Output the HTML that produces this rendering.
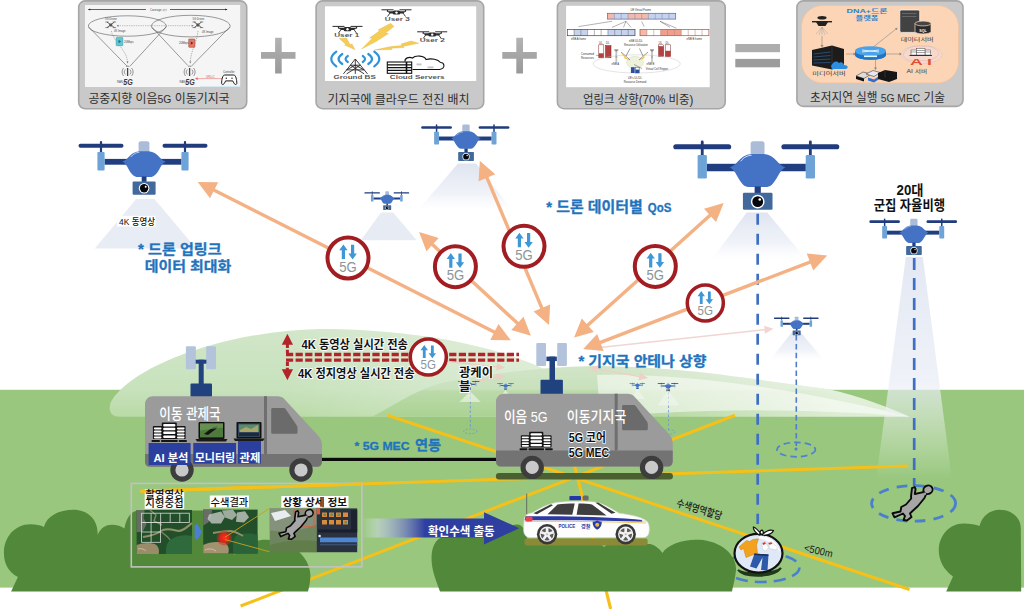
<!DOCTYPE html>
<html lang="ko">
<head>
<meta charset="utf-8">
<title>5G MEC 드론 수색 개념도</title>
<style>
html,body{margin:0;padding:0;background:#fff;}
body{width:1024px;height:609px;overflow:hidden;position:relative;font-family:"Liberation Sans","Noto Sans CJK KR",sans-serif;}
svg{position:absolute;left:0;top:0;display:block;}
svg text{font-family:"Liberation Sans","Noto Sans CJK KR",sans-serif;}
.b{font-weight:700;}
.blue{fill:#1f74bd;font-weight:700;stroke:#1f74bd;stroke-width:0.3px;}
.ol{paint-order:stroke;stroke:#fff;stroke-width:1.8px;stroke-linejoin:round;}
</style>
</head>
<body>
<svg width="1024" height="609" viewBox="0 0 1024 609">
<defs>
  <!-- drone: origin = body centre x, rotor line y -->
  <g id="drone">
    <rect x="-64.5" y="-2" width="45" height="4" rx="2" fill="#213c7c"/>
    <rect x="19.5" y="-2" width="45" height="4" rx="2" fill="#213c7c"/>
    <rect x="-43.1" y="-4.8" width="2.2" height="12" rx="1" fill="#213c7c"/>
    <rect x="40.9" y="-4.8" width="2.2" height="12" rx="1" fill="#213c7c"/>
    <rect x="-38.5" y="13.2" width="77" height="5.8" fill="#213f80"/>
    <rect x="-45.6" y="6.3" width="7.2" height="18.4" rx="1" fill="#6ea3d7"/>
    <rect x="38.4" y="6.3" width="7.2" height="18.4" rx="1" fill="#6ea3d7"/>
    <g transform="translate(1 0)"><rect x="-5.4" y="-4.4" width="10.8" height="11" rx="2" fill="#aabcd8"/>
    <path d="M-21.6 16 C-16 14.5 -14 6.6 -5 5.6 L5 5.6 C14 6.6 16 14.5 21.6 16 C16 18 14.5 30 7.5 31.2 L-7.5 31.2 C-14.5 30 -16 18 -21.6 16Z" fill="#4472c4"/>
    <path d="M-13 11 C-10.5 8 -8 6.8 -5 6.6" fill="none" stroke="#e8eefb" stroke-width="0.7" stroke-linecap="round"/></g>
    <g transform="translate(1.1 0.4)"><rect x="-2.4" y="30.4" width="4.8" height="5.4" fill="#213f80"/>
    <rect x="-11.5" y="35.4" width="23" height="13.2" rx="1" fill="#41699b"/>
    <circle cx="0" cy="42.2" r="5.3" fill="#fff"/>
    <circle cx="0" cy="42.2" r="4.2" fill="#05070c"/>
    <circle cx="1.6" cy="40.6" r="1" fill="#fff"/></g>
  </g>
  <!-- 5G badge, r=22.5 -->
  <g id="g5">
    <circle r="20.5" fill="#fff" stroke="#a21d22" stroke-width="4"/>
    <path d="M-4.6 -13.6 L-0.4 -7.8 L-3 -7.8 L-3 1 L-6.2 1 L-6.2 -7.8 L-8.8 -7.8Z" fill="#3f97d6"/>
    <path d="M4.6 1.4 L0.4 -4.4 L3 -4.4 L3 -13.2 L6.2 -13.2 L6.2 -4.4 L8.8 -4.4Z" fill="#3f97d6"/>
    <text x="0" y="13.6" font-size="14.4" text-anchor="middle" fill="#8b959a" textLength="17.5" lengthAdjust="spacingAndGlyphs">5G</text>
  </g>
  <!-- server rack icon 34x20 -->
  <g id="srv">
    <g fill="#141414">
      <rect x="0" y="17.400" width="8.200" height="2.100" rx="0.500"/><rect x="9.500" y="17.400" width="16.500" height="2.100" rx="0.500"/><rect x="27.200" y="17.400" width="8" height="2.100" rx="0.500"/>
      <rect x="1.300" y="3.600" width="9.600" height="13" rx="0.900"/><rect x="24.400" y="3.600" width="9.600" height="13" rx="0.900"/>
      <rect x="10.200" y="0" width="15" height="16.600" rx="0.900"/>
    </g>
    <g fill="#fff">
      <rect x="11.600" y="1.500" width="12.200" height="2.500" rx="1"/><rect x="11.600" y="5.300" width="12.200" height="2.500" rx="1"/><rect x="11.600" y="9.100" width="12.200" height="2.500" rx="1"/><rect x="11.600" y="12.900" width="12.200" height="2.500" rx="1"/>
      <rect x="2.300" y="4.900" width="7.600" height="2" rx="0.800"/><rect x="2.300" y="8" width="7.600" height="2" rx="0.800"/><rect x="2.300" y="11.100" width="7.600" height="2" rx="0.800"/><rect x="2.300" y="14.100" width="7.600" height="1.800" rx="0.800"/>
      <rect x="25.400" y="4.900" width="7.600" height="2" rx="0.800"/><rect x="25.400" y="8" width="7.600" height="2" rx="0.800"/><rect x="25.400" y="11.100" width="7.600" height="2" rx="0.800"/><rect x="25.400" y="14.100" width="7.600" height="1.800" rx="0.800"/>
    </g>
  </g>
  <g id="pers">
  <path d="M926 494.500 L924.500 498 L918 506 L912 511.500 L910 513.500 L911.500 517 L907 520.500 L903.500 520 L905 516 L903 513.500 L894.500 517.300 L892.500 513.300 L900.500 511.500 L901.300 507 L906 504.500 L911.200 498.500 L911 496.500 L912 488.200 L914.600 487 L915.600 489 L914.800 494 L921 492.600 L924 492 Z" fill="#a6a6a6" stroke="#0a0a0a" stroke-width="1.900" stroke-linejoin="round"/>
  <ellipse cx="928" cy="489.800" rx="4.700" ry="4.200" fill="#a6a6a6" stroke="#0a0a0a" stroke-width="1.900" transform="rotate(-30 928 489.800)"/>
  <path d="M923.500 493.500 L926 494" stroke="#a6a6a6" stroke-width="2"/>
</g>
  <filter id="soft" x="-2%" y="-2%" width="104%" height="104%"><feGaussianBlur stdDeviation="0.5"/></filter>
  <linearGradient id="coneFade" x1="0" y1="0" x2="0" y2="1">
    <stop offset="0" stop-color="#dfe4f0" stop-opacity="1"/>
    <stop offset="0.65" stop-color="#e9edf5" stop-opacity="0.7"/>
    <stop offset="1" stop-color="#f2f4f9" stop-opacity="0"/>
  </linearGradient>
  <linearGradient id="beamG" x1="0" y1="0" x2="0" y2="1">
    <stop offset="0" stop-color="#e3e8f3" stop-opacity="1"/>
    <stop offset="0.55" stop-color="#e9edf5" stop-opacity="0.75"/>
    <stop offset="1" stop-color="#ffffff" stop-opacity="0"/>
  </linearGradient>
  <linearGradient id="hillA" x1="0" y1="0" x2="0" y2="1">
    <stop offset="0" stop-color="#d1e6c8"/>
    <stop offset="0.68" stop-color="#c8e2bd"/>
    <stop offset="0.72" stop-color="#c6e1ba"/>
    <stop offset="1" stop-color="#b9daa6"/>
  </linearGradient>
  <linearGradient id="hillAw" x1="0" y1="0" x2="1" y2="0">
    <stop offset="0.35" stop-color="#ffffff" stop-opacity="0"/>
    <stop offset="1" stop-color="#ffffff" stop-opacity="0.42"/>
  </linearGradient>
  <linearGradient id="hillBw" gradientUnits="userSpaceOnUse" x1="600" y1="0" x2="840" y2="0">
    <stop offset="0" stop-color="#ffffff" stop-opacity="0"/>
    <stop offset="1" stop-color="#ffffff" stop-opacity="0.6"/>
  </linearGradient>
  <linearGradient id="hillB" x1="0" y1="0" x2="0" y2="1">
    <stop offset="0" stop-color="#d2e5c8"/>
    <stop offset="0.45" stop-color="#c8e1bc"/>
    <stop offset="0.5" stop-color="#bbdaa9"/>
    <stop offset="1" stop-color="#abd293"/>
  </linearGradient>
  <linearGradient id="barrow" x1="0" y1="0" x2="1" y2="0">
    <stop offset="0" stop-color="#e8ecf6" stop-opacity="0"/>
    <stop offset="0.1" stop-color="#cfd6ea" stop-opacity="0.55"/>
    <stop offset="0.4" stop-color="#2f3f9f" stop-opacity="1"/>
    <stop offset="1" stop-color="#2f3f9f" stop-opacity="1"/>
  </linearGradient>
  <linearGradient id="plusG" x1="0" y1="0" x2="0" y2="1">
    <stop offset="0" stop-color="#b3b3b3"/>
    <stop offset="1" stop-color="#999999"/>
  </linearGradient>
</defs>

<!-- ============ SKY / GROUND ============ -->
<g id="bg">
  <rect x="0" y="389.8" width="1024" height="197.8" fill="#98c77d"/>
</g>
<!-- ============ HILLS ============ -->
<g id="hills">
  <path d="M119 416.800 C111 416.800 108 411 110.500 403 C126 370 218 331 320 329 C470 329 590 372 592 416.800Z" fill="url(#hillA)"/>
  <path d="M119 416.800 C111 416.800 108 411 110.500 403 C126 370 218 331 320 329 C470 329 590 372 592 416.800Z" fill="url(#hillAw)"/>
  <path d="M372 416.800 C400 402 422 386 449 381.500 C490 374 540 367 593 366 C640 366 680 370 708 373 C740 377 790 384 827 389 C860 396 890 408 909.700 416.800Z" fill="url(#hillB)"/>
  <path d="M372 416.800 C400 402 422 386 449 381.500 C490 374 540 367 593 366 C640 366 680 370 708 373 C740 377 790 384 827 389 C860 396 890 408 909.700 416.800Z" fill="url(#hillBw)"/>
  <path d="M597 375 C650 373 720 380 782 390 C830 398 870 407 909.700 416.800 C860 412 780 409 708 411 C670 412 630 415 600 416.800 Z" fill="#ffffff" opacity="0.520"/>
</g>

<!-- ============ TOP BOXES ============ -->
<g id="topboxes">
  <!-- box 1 -->
  <rect x="78.700" y="0.900" width="168" height="107.900" rx="6.500" fill="#c9c9c9" stroke="#a6a6a6" stroke-width="1.600"/>
  <rect x="85" y="5" width="155.200" height="82" fill="#f5f5f5"/>
  <g fill="none" stroke="#4a4a4a" stroke-width="0.550">
    <path d="M88.500 9.500H146M170 9.500H227" stroke="#222" stroke-width="0.700"/>
    <path d="M88 9.500l2.200 -1.100v2.200zM227.500 9.500l-2.200 -1.100v2.200z" fill="#222" stroke="none"/>
    <ellipse cx="127.300" cy="26" rx="39" ry="10.200"/>
    <ellipse cx="190.800" cy="26.100" rx="39.400" ry="10.800"/>
    <path d="M89.100 27.400L127.300 66.400M166.300 26.600L129.800 66.400M152.200 27.400L187.900 65.600M229.400 27.400L191.200 66.400"/>
    <path d="M117.400 25.700H192.900" stroke-dasharray="1.300 1" stroke="#888"/>
    <path d="M111.500 31C112 40 127 50 127.500 62M198 31C197 42 191 50 190.300 62" stroke-dasharray="1.300 1" stroke="#777"/>
  </g>
  <path d="M116.500 25.700l2 -1v2zM193.800 25.700l-2 -1v2zM127.500 63.500l-1 -2h2zM190.300 63.500l-1 -2h2z" fill="#777"/>
  <!-- quadcopters -->
  <g stroke="#444" stroke-width="0.800" fill="none">
    <path d="M107 22l7.400 5.600M114.400 22l-7.400 5.600M194.200 22l7.400 5.600M201.600 22l-7.400 5.600"/>
    <path d="M105.300 22h3.400M112.700 22h3.400M105.300 27.600h3.400M112.700 27.600h3.400M192.500 22h3.400M199.900 22h3.400M192.500 27.600h3.400M199.900 27.600h3.400" stroke-width="0.600"/>
  </g>
  <rect x="109.200" y="23.400" width="3" height="3" rx="0.600" fill="#555"/><rect x="196.400" y="23.400" width="3" height="3" rx="0.600" fill="#555"/>
  <!-- base stations -->
  <g stroke="#555" fill="none" stroke-width="0.600">
    <path d="M127.600 68v8M189.600 68v8" stroke-width="1.300" stroke="#444"/>
    <path d="M125.300 69.500a3.500 3.500 0 0 0 0 5M123.600 68a6 6 0 0 0 0 8M129.900 69.500a3.500 3.500 0 0 1 0 5M131.600 68a6 6 0 0 1 0 8M126 66.400a2.500 1.200 0 0 1 3.200 0"/>
    <path d="M187.300 69.500a3.500 3.500 0 0 0 0 5M185.600 68a6 6 0 0 0 0 8M191.900 69.500a3.500 3.500 0 0 1 0 5M193.600 68a6 6 0 0 1 0 8M188 66.400a2.500 1.200 0 0 1 3.200 0"/>
  </g>
  <rect x="116.200" y="37.400" width="6.600" height="8.300" rx="0.600" fill="#5ccad3" stroke="#2a8f99" stroke-width="0.500"/>
  <path d="M118.500 39.800l2.600 1.700 -2.600 1.700z" fill="#1d6f78"/>
  <rect x="188.700" y="39" width="6.200" height="8.300" rx="0.600" fill="#e37a68" stroke="#9a3424" stroke-width="0.500"/>
  <path d="M190.800 41.400l2.600 1.700 -2.600 1.700z" fill="#7e2418"/>
  <g font-size="2.700" fill="#444">
    <text x="150" y="10.500" textLength="17" lengthAdjust="spacingAndGlyphs">Coverage 확장</text>
    <text x="105" y="20.300">5G Drone</text><text x="192.500" y="20.300">5G Drone</text>
    <text x="114" y="31.800">4K Image</text><text x="202" y="32.800">4K Image</text>
    <text x="124" y="42.500">20Mbps</text><text x="179" y="44">20Mbps</text>
    <text x="117" y="82.500">RAN</text><text x="179.500" y="82.500">RAN</text>
    <text x="223" y="72.800">Controller</text>
    <text x="206" y="78" fill="#e05050">URLLC</text>
  </g>
  <text x="123.300" y="84.800" font-size="8.200" class="b" fill="#3a3a3a" font-style="italic" textLength="9.500" lengthAdjust="spacingAndGlyphs">5G</text>
  <text x="185.300" y="84.800" font-size="8.200" class="b" fill="#3a3a3a" font-style="italic" textLength="9.500" lengthAdjust="spacingAndGlyphs">5G</text>
  <path d="M196 78.600H222" stroke="#e86060" stroke-width="0.500"/><path d="M195 78.600l2.600 -1.300v2.600z" fill="#e86060"/>
  <path d="M224.600 75h9.200c2.100 0 3 5.200 3 8.300c0 1.600 -2.100 1.600 -3 -0.400l-1 -2h-7.200l-1 2c-0.900 2 -3 2 -3 0.400c0 -3.100 0.900 -8.300 3 -8.300z" fill="#fff" stroke="#1c1c1c" stroke-width="1"/>
  <circle cx="226.300" cy="78.200" r="0.700" fill="#1c1c1c"/><circle cx="232" cy="78.200" r="0.700" fill="#1c1c1c"/>
  <rect x="200" y="86" width="40" height="0.800" fill="#cfe6f3"/>
  <text x="88.400" y="103.400" font-size="12.400" fill="#2e2e2e" textLength="141.200" lengthAdjust="spacingAndGlyphs">공중지향 이음<tspan font-size="10.800">5G</tspan> 이동기지국</text>

  <!-- plus 1 -->
  <path d="M275.100 37.800h6.600v14.300h13.800v6.700h-13.800v14.700h-6.600v-14.700h-14.100v-6.700h14.100z" fill="url(#plusG)"/>

  <!-- box 2 -->
  <rect x="316.100" y="0.900" width="167.600" height="107.800" rx="6.500" fill="#c9c9c9" stroke="#a6a6a6" stroke-width="1.600"/>
  <rect x="325" y="6.300" width="151.200" height="74.700" fill="#fff"/>
  <g transform="translate(396.5 12)"><path d="M-15 -2.200h12M3 -2.200h12" stroke="#2b2b2b" stroke-width="1" fill="none"/><path d="M-9 -2v1.800M9 -2v1.800" stroke="#2b2b2b" stroke-width="1.200"/><path d="M-9.500 -0.800h19l-3 2.200h-13z" fill="#2b2b2b"/><rect x="-3.800" y="-1.600" width="7.600" height="4.200" rx="1.500" fill="#2b2b2b"/><circle cx="0" cy="0.600" r="1.200" fill="#fff"/><path d="M-6.500 1l-2.500 3.500M6.500 1l2.500 3.500" stroke="#2b2b2b" stroke-width="0.900"/></g><g transform="translate(347.5 28.6)"><path d="M-15 -2.200h12M3 -2.200h12" stroke="#2b2b2b" stroke-width="1" fill="none"/><path d="M-9 -2v1.800M9 -2v1.800" stroke="#2b2b2b" stroke-width="1.200"/><path d="M-9.500 -0.800h19l-3 2.200h-13z" fill="#2b2b2b"/><rect x="-3.800" y="-1.600" width="7.600" height="4.200" rx="1.500" fill="#2b2b2b"/><circle cx="0" cy="0.600" r="1.200" fill="#fff"/><path d="M-6.500 1l-2.500 3.500M6.500 1l2.500 3.500" stroke="#2b2b2b" stroke-width="0.900"/></g><g transform="translate(432.2 34)"><path d="M-15 -2.200h12M3 -2.200h12" stroke="#2b2b2b" stroke-width="1" fill="none"/><path d="M-9 -2v1.800M9 -2v1.800" stroke="#2b2b2b" stroke-width="1.200"/><path d="M-9.500 -0.800h19l-3 2.200h-13z" fill="#2b2b2b"/><rect x="-3.800" y="-1.600" width="7.600" height="4.200" rx="1.500" fill="#2b2b2b"/><circle cx="0" cy="0.600" r="1.200" fill="#fff"/><path d="M-6.500 1l-2.500 3.500M6.500 1l2.500 3.500" stroke="#2b2b2b" stroke-width="0.900"/></g>
  <g font-size="4.600" fill="#555" text-anchor="middle" class="b">
    <text x="397.300" y="20.800" textLength="25" lengthAdjust="spacingAndGlyphs">User 3</text>
    <text x="346.700" y="36.900" textLength="25" lengthAdjust="spacingAndGlyphs">User 1</text>
    <text x="432.200" y="42.400" textLength="25" lengthAdjust="spacingAndGlyphs">User 2</text>
    <text x="354.600" y="79.400" textLength="42.400" lengthAdjust="spacingAndGlyphs">Ground BS</text>
    <text x="417.200" y="79.100" textLength="54.700" lengthAdjust="spacingAndGlyphs">Cloud Servers</text>
  </g>
  <g fill="#f5cd55" stroke="#d8ab36" stroke-width="0.300" stroke-linejoin="round">
    <path d="M390.700 23.200L394 26.500L385.500 33L388.500 33.500L376 41.500L361.600 49L372.500 38L369.500 38L380 30.500L378 30Z"/>
    <path d="M339.200 38.500L346.500 38L350 44.500L352 44L355 49.800L344.500 45L346 44.500Z"/>
    <path d="M418.900 43.200L411 41L401 44L402 45.500L391 46.500L374.100 50.100L392 49.500L391.500 48.200L404 47.500L403.500 46.300Z"/>
  </g>
  <g fill="none" stroke="#2d93da" stroke-width="2.200" stroke-linecap="round">
    <path d="M336.300 51.700Q326.300 59 336.300 66.300M342.300 54Q334.800 59 342.300 64M347.800 56Q343.300 59 347.800 62"/>
    <path d="M374.300 51.700Q384.300 59 374.300 66.300M368.300 54Q375.800 59 368.300 64M362.800 56Q367.300 59 362.800 62"/>
  </g>
  <path d="M355.300 59L343.400 73.900M355.300 59L367.500 73.900M355.300 59V73.900M350.300 65.200H360.300M346.600 69.900H364.200M350.300 65.200L364.200 73.900M360.300 65.200L346.600 73.900M346.600 69.900L355.300 65.200L364.200 69.900" fill="none" stroke="#2a2a2a" stroke-width="0.900"/>
  <g>
    <rect x="387.300" y="62" width="24.400" height="11.300" fill="#fff" stroke="#111" stroke-width="1.100"/>
    <path d="M387.300 64.800h24.400M387.300 67.600h24.400M387.300 70.400h24.400" stroke="#111" stroke-width="1.300"/>
    <path d="M406.500 62v11.300" stroke="#111" stroke-width="1.600"/>
    <path d="M405 61.500c-0.500 -3.500 4 -5 7.500 -3.500c3 -3 12 -2.500 13.500 1.500c6 -1.500 12 0 14.500 3c3.500 0 6 5.500 -1 7h-27" fill="none" stroke="#111" stroke-width="1.100"/>
    <rect x="416.500" y="63.500" width="5" height="1.800" fill="#c4c4c4"/><rect x="427.500" y="66.500" width="6" height="1.800" fill="#c4c4c4"/>
  </g>
  <text x="398.500" y="103.800" font-size="12.200" text-anchor="middle" fill="#2e2e2e" textLength="142" lengthAdjust="spacingAndGlyphs">기지국에 클라우드 전진 배치</text>

  <!-- plus 2 -->
  <path d="M516.300 37.800h6.700v14.300h13.800v6.700h-13.800v14.700h-6.700v-14.700h-14v-6.700h14z" fill="url(#plusG)"/>

  <!-- box 3 -->
  <rect x="557.400" y="0.900" width="167.800" height="107.800" rx="6.500" fill="#c9c9c9" stroke="#a6a6a6" stroke-width="1.600"/>
  <rect x="566.100" y="5.800" width="143.600" height="81.400" fill="#fff"/>
  <rect x="607.60" y="13.3" width="6.81" height="5.8" fill="#f3b9aa"/><rect x="614.41" y="13.3" width="6.81" height="5.8" fill="#c5d3ee"/><rect x="621.22" y="13.3" width="6.81" height="5.8" fill="#c5d3ee"/><rect x="628.03" y="13.3" width="6.81" height="5.8" fill="#f3b9aa"/><rect x="634.84" y="13.3" width="6.81" height="5.8" fill="#f3b9aa"/><rect x="641.65" y="13.3" width="6.81" height="5.8" fill="#f3b9aa"/><rect x="648.46" y="13.3" width="6.81" height="5.8" fill="#c5d3ee"/><rect x="655.27" y="13.3" width="6.81" height="5.8" fill="#c5d3ee"/><rect x="662.08" y="13.3" width="6.81" height="5.8" fill="#c5d3ee"/><rect x="668.89" y="13.3" width="6.81" height="5.8" fill="#c5d3ee"/><rect x="607.6" y="13.3" width="68.1" height="5.8" fill="none" stroke="#5a6a9a" stroke-width="0.700"/><path d="M614.41 13.3v5.8M621.22 13.3v5.8M628.03 13.3v5.8M634.84 13.3v5.8M641.65 13.3v5.8M648.46 13.3v5.8M655.27 13.3v5.8M662.08 13.3v5.8M668.89 13.3v5.8" stroke="#5a6a9a" stroke-width="0.400"/>
  <rect x="567.30" y="29.5" width="6.77" height="6.2" fill="#ffffff"/><rect x="574.07" y="29.5" width="6.77" height="6.2" fill="#c5d3ee"/><rect x="580.84" y="29.5" width="6.77" height="6.2" fill="#c5d3ee"/><rect x="587.61" y="29.5" width="6.77" height="6.2" fill="#ffffff"/><rect x="594.38" y="29.5" width="6.77" height="6.2" fill="#ffffff"/><rect x="601.15" y="29.5" width="6.77" height="6.2" fill="#ffffff"/><rect x="607.92" y="29.5" width="6.77" height="6.2" fill="#c5d3ee"/><rect x="614.69" y="29.5" width="6.77" height="6.2" fill="#c5d3ee"/><rect x="621.46" y="29.5" width="6.77" height="6.2" fill="#c5d3ee"/><rect x="628.23" y="29.5" width="6.77" height="6.2" fill="#c5d3ee"/><rect x="567.3" y="29.5" width="67.7" height="6.2" fill="none" stroke="#444" stroke-width="0.700"/><path d="M574.07 29.5v6.2M580.84 29.5v6.2M587.61 29.5v6.2M594.38 29.5v6.2M601.15 29.5v6.2M607.92 29.5v6.2M614.69 29.5v6.2M621.46 29.5v6.2M628.23 29.5v6.2" stroke="#444" stroke-width="0.400"/>
  <rect x="640.00" y="29.5" width="6.89" height="6.2" fill="#f3b9aa"/><rect x="646.89" y="29.5" width="6.89" height="6.2" fill="#ffffff"/><rect x="653.78" y="29.5" width="6.89" height="6.2" fill="#ffffff"/><rect x="660.67" y="29.5" width="6.89" height="6.2" fill="#ee9f8d"/><rect x="667.56" y="29.5" width="6.89" height="6.2" fill="#ee9f8d"/><rect x="674.45" y="29.5" width="6.89" height="6.2" fill="#ee9f8d"/><rect x="681.34" y="29.5" width="6.89" height="6.2" fill="#ffffff"/><rect x="688.23" y="29.5" width="6.89" height="6.2" fill="#ffffff"/><rect x="695.12" y="29.5" width="6.89" height="6.2" fill="#ffffff"/><rect x="702.01" y="29.5" width="6.89" height="6.2" fill="#ffffff"/><rect x="640" y="29.5" width="68.9" height="6.2" fill="none" stroke="#b0503c" stroke-width="0.700"/><path d="M646.89 29.5v6.2M653.78 29.5v6.2M660.67 29.5v6.2M667.56 29.5v6.2M674.45 29.5v6.2M681.34 29.5v6.2M688.23 29.5v6.2M695.12 29.5v6.2M702.01 29.5v6.2" stroke="#b0503c" stroke-width="0.400"/>
  <path d="M612 21.300L578.500 26.600M626 21.300L612 27.400M626 21.300L623.500 27.400M626 21.300L631 27.400M641.700 21.600L644.200 26.600M660 21.300L676.500 28.200M660 21.300L670 27.400" fill="none" stroke="#555" stroke-width="0.450"/>
  <g font-size="2.700" fill="#333" font-family="'Liberation Serif',serif">
    <text x="640.800" y="11.300" text-anchor="middle" font-family="'Liberation Sans',sans-serif">UE Virtual Frame</text>
    <text x="571" y="39.500" font-family="'Liberation Sans',sans-serif">eNB A frame</text><text x="686.500" y="39.500" font-family="'Liberation Sans',sans-serif">eNB B frame</text>
    <text x="599" y="43.800">UL</text><text x="606" y="43.800">DL</text>
    <text x="658.800" y="43.800">UL</text><text x="665.600" y="43.800">DL</text>
    <text x="635.900" y="42.300" text-anchor="middle">eNB UL/DL</text><text x="635.900" y="46" text-anchor="middle">Resource Utilization</text>
    <text x="581" y="54.800">Consumed</text><text x="581" y="59">Resources</text>
    <text x="611.500" y="65">eNB A</text><text x="646.500" y="65">eNB B</text>
    <text x="645.800" y="69.500">Virtual Cell Region</text>
    <text x="635" y="78.800" text-anchor="middle">UE's UL/DL</text><text x="635" y="83" text-anchor="middle">Resource Demand</text>
  </g>
  <g>
    <rect x="598.800" y="44.800" width="5" height="13" fill="#fff" stroke="#7d2626" stroke-width="0.500"/><rect x="598.800" y="53.300" width="5" height="4.500" fill="#b4403f"/>
    <rect x="605.500" y="45.600" width="5.500" height="12.200" fill="#b4403f" stroke="#7d2626" stroke-width="0.500"/>
    <rect x="658.600" y="45.600" width="5" height="11" fill="#b4403f" stroke="#7d2626" stroke-width="0.500"/><rect x="658.600" y="44.800" width="5" height="1.600" fill="#fff" stroke="#7d2626" stroke-width="0.400"/>
    <rect x="665.200" y="44.800" width="5.500" height="11.800" fill="#fff" stroke="#7d2626" stroke-width="0.500"/><rect x="665.200" y="50.800" width="5.500" height="5.800" fill="#b4403f"/>
    <path d="M596 55.400h3" stroke="#444" stroke-width="0.400"/>
    <ellipse cx="636.700" cy="63.900" rx="43.600" ry="9.100" fill="none" stroke="#c9c9c9" stroke-width="0.500"/>
    <ellipse cx="635" cy="62.300" rx="8.500" ry="6" fill="#eef1dc" stroke="#cfd3bb" stroke-width="0.400"/>
    <path d="M616.300 50v12.300M652 50v12.300" stroke="#888" stroke-width="1.800" stroke-dasharray="0.700 0.500"/>
    <path d="M614.300 50h4M650 50h4" stroke="#666" stroke-width="1"/>
    <path d="M630 48.500l-4 7.500M639.500 48.500l3.500 7.500M621 52l9 8M648 52l-9 8" stroke="#333" stroke-width="0.500" fill="none"/>
    <path d="M620.900 53.100l5 3 -1.300 0.700 5.400 3.800 -6.500 -2.600 1.200 -0.800zM647.500 53.100l-5 3 1.300 0.700 -5.400 3.800 6.500 -2.600 -1.200 -0.800z" fill="#f2bf3a"/>
    <rect x="630.900" y="67.200" width="3.800" height="5.800" fill="#2c4f9e"/><rect x="635.400" y="67.200" width="3.800" height="5.800" fill="#fff" stroke="#2c4f9e" stroke-width="0.500"/><rect x="635.400" y="69.600" width="3.800" height="3.400" fill="#2c4f9e"/>
    <path d="M634 64.500l8 4" stroke="#333" stroke-width="0.400"/>
  </g>
  <text x="638.200" y="103.900" font-size="12.200" text-anchor="middle" fill="#2e2e2e" textLength="110.500" lengthAdjust="spacingAndGlyphs">업링크 상향(70% 비중)</text>

  <!-- equals -->
  <rect x="735.300" y="44" width="44.700" height="8.200" fill="#adadad"/>
  <rect x="735.300" y="58.900" width="44.700" height="8.400" fill="#9c9c9c"/>

  <!-- box 4 -->
  <rect x="796.900" y="0.900" width="166.100" height="105.500" rx="6.500" fill="#c9c9c9" stroke="#a6a6a6" stroke-width="1.600"/>
  <rect x="801.500" y="5.500" width="157" height="77.500" rx="21" fill="#fbd5b5" stroke="#f3c39d" stroke-width="0.800"/>
  <g fill="#2f7fd0" class="b" font-size="5.600" text-anchor="middle">
    <text x="867" y="13.400" textLength="41" lengthAdjust="spacingAndGlyphs">DNA+드론</text>
    <text x="867" y="19.800" textLength="23" lengthAdjust="spacingAndGlyphs">플랫폼</text>
  </g>
  <g font-size="4.600" fill="#3a3a3a" text-anchor="middle">
    <text x="917.200" y="41.200" textLength="33" lengthAdjust="spacingAndGlyphs">데이터서버</text>
    <text x="829" y="74.700" textLength="33.500" lengthAdjust="spacingAndGlyphs">미디어서버</text>
    <text x="916.800" y="72.700" textLength="20.700" lengthAdjust="spacingAndGlyphs">AI 서버</text>
  </g>
  <!-- drone icon -->
  <g fill="#222">
    <rect x="812" y="21" width="20" height="1.400"/><ellipse cx="822" cy="17.800" rx="4.600" ry="1.800"/><path d="M816 22h12l-2.500 4h-7z"/>
    <path d="M822 27l-6 7M822 27l-3 8M822 27l0 8M822 27l3 8M822 27l6 7" stroke="#999" stroke-width="0.400"/>
  </g>
  <path d="M822 36v10" stroke="#888" stroke-width="0.600"/><path d="M820.500 45l1.500 2.500 1.500 -2.500z" fill="#888"/>
  <!-- media server -->
  <path d="M812 50l20 -4.500 12 3.500v17l-12 3.500 -20 -4z" fill="#1c1c1c"/>
  <path d="M813.500 54l17 -2M813.500 57l17 -1.500M813.500 60l17 -1M813.500 63l17 -0.500" stroke="#2f7fd0" stroke-width="0.500"/>
  <path d="M832 46v23" stroke="#444" stroke-width="0.500"/>
  <path d="M831 66c2 -4 5 -6 8 -3c2 -2 5 0 5 2c4 0 5 3 2 4h-14z" fill="#2b8ee0"/>
  <path d="M846 54h8" stroke="#888" stroke-width="0.600"/><path d="M853.500 52.600l2.500 1.400 -2.500 1.400z" fill="#888"/>
  <!-- router -->
  <ellipse cx="870.500" cy="55" rx="15.500" ry="4.800" fill="#2a86d8"/>
  <path d="M855 51v4a15.500 4.800 0 0 0 31 0v-4z" fill="#1f74c6"/>
  <ellipse cx="870.500" cy="51" rx="15.500" ry="4.800" fill="#49a3ea"/>
  <path d="M862 50l17 2M879 50l-17 2" stroke="#fff" stroke-width="0.800"/>
  <rect x="864" y="55.500" width="13" height="1.600" fill="#dff"/>
  <path d="M872 48L896 29M886 54h14M875.500 60v8" stroke="#888" stroke-width="0.600"/>
  <path d="M895 28.300l2.600 -0.600 -1 2.500zM899.500 52.600l2.500 1.400 -2.500 1.400zM874 67.500l1.500 2.500 1.500 -2.500z" fill="#888"/>
  <!-- data server -->
  <rect x="899.800" y="10" width="19.900" height="22.400" rx="1.500" fill="#424242" stroke="#fff" stroke-width="0.700"/>
  <path d="M902 13.500h14.500M902 16.500h14.500" stroke="#777" stroke-width="0.700"/>
  <path d="M915 23.500v8a8 2.400 0 0 0 16 0v-8z" fill="#2b2b2b" stroke="#fbd5b5" stroke-width="0.700"/>
  <ellipse cx="923" cy="23.500" rx="8" ry="2.400" fill="#444" stroke="#fbd5b5" stroke-width="0.700"/>
  <text x="923" y="31.500" font-size="3.600" class="b" fill="#fff" text-anchor="middle">SQL</text>
  <!-- AI -->
  <ellipse cx="921.700" cy="54.500" rx="20.300" ry="9" fill="#f6d9cc" stroke="#a9b7d8" stroke-width="0.500" stroke-dasharray="1 0.800"/>
  <path d="M903 55c3 -8 12 -10 18 -8c6 -2 16 0 18 7c-4 6 -14 8 -20 6c-6 2 -14 0 -16 -5z" fill="none" stroke="#e3a39b" stroke-width="0.400"/>
  <g fill="#fff" stroke="#444" stroke-width="0.500"><rect x="911" y="50" width="5.500" height="5"/><rect x="925" y="50" width="5.500" height="5"/><rect x="916.500" y="48.500" width="8.500" height="6.500"/></g>
  <path d="M916.500 50.500h8.500M916.500 52.500h8.500M911 52h5.500M925 52h5.500" stroke="#444" stroke-width="0.500"/>
  <rect x="909.500" y="55" width="22.500" height="0.900" fill="#222"/>
  <text x="921" y="64.500" font-size="8.500" class="b" fill="#e2512f" text-anchor="middle" textLength="22" lengthAdjust="spacingAndGlyphs">A I</text>
  <!-- edge devices -->
  <g>
    <path d="M856 76l7 -4 8 2 -7 4.500z" fill="#ddd" stroke="#222" stroke-width="0.500"/><path d="M856 76v3l8 2.500v-3z" fill="#111"/>
    <path d="M866 74l7 -3.500 7 2 -6 4z" fill="#e8e8f4" stroke="#222" stroke-width="0.500"/><path d="M868 77.500l6 2 6 -4v3l-6 4 -6 -2z" fill="#2f6fd0"/>
    <path d="M878 73l7 -3 12 2v7l-8 3 -11 -3z" fill="#161616"/><path d="M885 70v7.500" stroke="#555" stroke-width="0.400"/>
  </g>
  <text x="877.500" y="102" font-size="12.200" text-anchor="middle" fill="#2e2e2e" textLength="134.800" lengthAdjust="spacingAndGlyphs">초저지연 실행 <tspan font-size="10.800">5G MEC</tspan> 기술</text>
</g>

<!--TOPBOXES-END-->
<!-- ============ SCENE ============ -->
<g id="scene">
  <!-- light cones (behind everything) -->
  <path d="M136.200 199.100 L154.500 199.100 L196 248.500 L94.800 248.500Z" fill="#e8ecf4"/>
  <path d="M458 163.500 L476 163.500 L512 210 L418 210Z" fill="url(#coneFade)"/>
  <path d="M381 212.400 L393.100 212.400 L416.700 240.300 L360.900 240.300Z" fill="#e7ebf3"/>
  <path d="M746.700 212.500 L767.200 212.500 L806 259 L712 259Z" fill="url(#coneFade)"/>
  <path d="M905.800 257 L922.800 257 L952 480 L876 480Z" fill="url(#beamG)"/>
  <path d="M792.500 331.500 L800 331.500 L824 360 L770 360Z" fill="url(#coneFade)"/>

  <!-- yellow search-sector lines -->
  <g stroke="#f5c01a" stroke-width="3.100" stroke-linecap="butt" fill="none">
    <path d="M387.500 415.200L909.500 589.500"/>
    <path d="M735 415.200L240.600 606"/>
    <path d="M140.500 491.200L908 466"/>
    <path d="M610.700 609L556.500 394"/>
  </g>
</g>

<!-- red dashed transfer lines -->
<g stroke="#b3242a" stroke-width="3.300" fill="none">
  <path d="M286 354.500H519" stroke-dasharray="7.200 2.400"/>
  <path d="M286 360.200H519" stroke-dasharray="7.200 2.400"/>
  <path d="M287.400 344v9" stroke-width="3" stroke-dasharray="4 1.800"/>
  <path d="M287.400 362v8" stroke-width="3" stroke-dasharray="4 1.800"/>
</g>
<path d="M287.400 333.800l5.600 11h-11.200z" fill="#b3242a"/>
<path d="M287.400 380.200l5.600 -11h-11.200z" fill="#b3242a"/>

<!-- vertical dashed flight lines -->
<g stroke="#3f6fc4" fill="none">
  <path d="M757.700 213.800V524" stroke-width="2.700" stroke-dasharray="11 9"/>
  <path d="M914.200 258V486" stroke-width="2.700" stroke-dasharray="12 8"/>
  <path d="M796.300 335V446" stroke-width="1.600" stroke-dasharray="5.500 3.400" stroke="#4f7dcb"/>
  <path d="M470.300 392V429" stroke-width="0.900" stroke-dasharray="2.600 2" stroke="#6d95d6"/>
  <path d="M668.500 392V431" stroke-width="0.800" stroke-dasharray="2.500 2" stroke="#6d95d6"/>
  <ellipse cx="796.200" cy="449.600" rx="19.200" ry="7.200" stroke-width="1.700" stroke-dasharray="6.500 4" stroke="#4f80cf"/>
  <circle cx="796" cy="449" r="1.500" fill="#4f80cf" stroke="none"/>
  <ellipse cx="470.300" cy="431.300" rx="6.600" ry="2.400" stroke-width="0.700" stroke-dasharray="2 1.500" stroke="#6d95d6"/>
  <ellipse cx="668.500" cy="432" rx="6.500" ry="2.300" stroke-width="0.700" stroke-dasharray="2 1.500" stroke="#6d95d6"/>
  <ellipse cx="913.600" cy="503.400" rx="42" ry="17.800" stroke-width="2.800" stroke-dasharray="10.500 8" stroke="#4a7fd0"/>
  <ellipse cx="762" cy="567.500" rx="37.500" ry="14.500" stroke-width="2.600" stroke-dasharray="12 7" stroke="#4a7fd0"/>
</g>
<!-- pale arrows -->
<g opacity="0.950">
<path d="M586.0 349.0L766.5 329.5" stroke="#f1d3cf" stroke-width="1.6" fill="none"/><path d="M0 0L-9 -4L-9 4Z" fill="#f1d3cf" transform="translate(773.5 328.7) rotate(-6.18)"/>
<path d="M641.1 376.8L595.5 368.8" stroke="#edd0c6" stroke-width="1.6" fill="none"/><path d="M0 0L-9 -4L-9 4Z" fill="#edd0c6" transform="translate(588.6 367.6) rotate(-170.07)"/><path d="M0 0L-9 -4L-9 4Z" fill="#edd0c6" transform="translate(648.0 378.0) rotate(9.93)"/>
<path d="M447.6 361.5L498.5 367.0" stroke="#edcdc5" stroke-width="1.6" fill="none"/><path d="M0 0L-8.5 -3.8L-8.5 3.8Z" fill="#edcdc5" transform="translate(505.0 367.7) rotate(6.16)"/>
<path d="M474.0 381.8L498.6 377.1" stroke="#edcdc5" stroke-width="1.6" fill="none"/><path d="M0 0L-8.5 -3.8L-8.5 3.8Z" fill="#edcdc5" transform="translate(505.0 375.9) rotate(-10.78)"/>
</g>
<!-- orange uplink arrows -->
<g id="arrows">
<path d="M212.3 189.3L496.2 332.9" stroke="#f4b183" stroke-width="3.4" fill="none"/><path d="M0 0L-18.4 -9L-18.4 9Z" fill="#f4b183" transform="translate(510.8 340.3) rotate(26.84)"/><path d="M0 0L-18.4 -9L-18.4 9Z" fill="#f4b183" transform="translate(197.7 181.9) rotate(206.84)"/>
<path d="M431.1 243.3L518.9 324.6" stroke="#f4b183" stroke-width="3.4" fill="none"/><path d="M0 0L-18.4 -9L-18.4 9Z" fill="#f4b183" transform="translate(530.9 335.8) rotate(42.85)"/><path d="M0 0L-18.4 -9L-18.4 9Z" fill="#f4b183" transform="translate(419.1 232.1) rotate(222.85)"/>
<path d="M486.2 175.9L542.6 309.8" stroke="#f4b183" stroke-width="3.4" fill="none"/><path d="M0 0L-18.4 -9L-18.4 9Z" fill="#f4b183" transform="translate(549.0 324.9) rotate(67.14)"/><path d="M0 0L-18.4 -9L-18.4 9Z" fill="#f4b183" transform="translate(479.8 160.8) rotate(247.14)"/>
<path d="M586.3 326.6L711.5 214.1" stroke="#f4b183" stroke-width="3.4" fill="none"/><path d="M0 0L-18.4 -9L-18.4 9Z" fill="#f4b183" transform="translate(723.7 203.1) rotate(-41.96)"/><path d="M0 0L-18.4 -9L-18.4 9Z" fill="#f4b183" transform="translate(574.1 337.6) rotate(138.04)"/>
<path d="M598.5 343.2L811.9 261.3" stroke="#f4b183" stroke-width="3.4" fill="none"/><path d="M0 0L-18.4 -9L-18.4 9Z" fill="#f4b183" transform="translate(827.2 255.4) rotate(-21.01)"/><path d="M0 0L-18.4 -9L-18.4 9Z" fill="#f4b183" transform="translate(583.2 349.1) rotate(158.99)"/>
</g>
<!-- 5G badges -->
<use href="#g5" transform="translate(348 258)"/>
<use href="#g5" transform="translate(455.400 266.700)"/>
<use href="#g5" transform="translate(524 246.300)"/>
<use href="#g5" transform="translate(655.300 266.400)"/>
<use href="#g5" transform="translate(705.300 303) scale(0.880)"/>
<use href="#g5" transform="translate(428.300 357) scale(0.880)"/>

<!-- drones -->
<use href="#drone" transform="translate(143 145.700)"/>
<use href="#drone" transform="translate(465.300 127.500) scale(0.684)"/>
<use href="#drone" transform="translate(386.800 192.900) scale(0.348)"/>
<use href="#drone" transform="translate(756.300 146.800) scale(1.287)"/>
<use href="#drone" transform="translate(913.200 221.700) scale(0.680)"/>
<use href="#drone" transform="translate(796.300 318.200) scale(0.347)"/>
<use href="#drone" transform="translate(468.800 381.600) scale(0.166)"/>
<use href="#drone" transform="translate(505.500 383.500) scale(0.130)"/>
<use href="#drone" transform="translate(637.300 383.200) scale(0.120)"/>
<use href="#drone" transform="translate(668 383.400) scale(0.160)"/>
<g fill="#f2f7ef" opacity="0.620">
  <path d="M470.300 391.500l-11 10.500h21.500z"/><path d="M505.500 390l-5.500 7.500h11z"/><path d="M637.300 389l-6.700 10h14.400z"/><path d="M668 390.500l-10.300 14.800h21.700z"/>
</g>

<!-- labels -->
<rect x="116.900" y="215.800" width="38.600" height="10.700" fill="#fff" opacity="0.920"/>
<text x="137" y="225" font-size="9.300" font-weight="500" text-anchor="middle" fill="#111" textLength="36" lengthAdjust="spacingAndGlyphs" class="ol">4K 동영상</text>
<text class="blue" font-size="14.200" x="138" y="253.600" textLength="83.500" lengthAdjust="spacingAndGlyphs">* 드론 업링크</text>
<text class="blue" font-size="14.200" x="144.700" y="270.600" textLength="86.500" lengthAdjust="spacingAndGlyphs">데이터 최대화</text>
<text class="blue" font-size="14.400" x="546.300" y="212.300" textLength="96.500" lengthAdjust="spacingAndGlyphs">* 드론 데이터별</text>
<text class="blue" font-size="11.900" x="647.800" y="211.900" textLength="23.600" lengthAdjust="spacingAndGlyphs">QoS</text>
<text class="blue" font-size="14.200" x="578.400" y="366.200" textLength="128" lengthAdjust="spacingAndGlyphs">* 기지국 안테나 상향</text>
<text class="blue" font-size="11.400" x="354.600" y="449.700" textLength="55" lengthAdjust="spacingAndGlyphs">* 5G MEC</text>
<text class="blue" font-size="14.200" x="415" y="450.300" textLength="26" lengthAdjust="spacingAndGlyphs">연동</text>
<text font-weight="600" font-size="13.800" x="910" y="194.600" text-anchor="middle" fill="#111" textLength="26.900" lengthAdjust="spacingAndGlyphs" class="b">20대</text>
<text class="b" font-size="13.800" x="909.400" y="210.300" text-anchor="middle" fill="#111" textLength="71.500" lengthAdjust="spacingAndGlyphs">군집 자율비행</text>
<text class="b ol" font-size="12.400" x="301.400" y="349" fill="#111" textLength="106.500" lengthAdjust="spacingAndGlyphs">4K 동영상 실시간 전송</text>
<text class="b ol" font-size="12.400" x="298" y="378.200" fill="#111" textLength="116.500" lengthAdjust="spacingAndGlyphs">4K 정지영상 실시간 전송</text>
<text class="b ol" font-size="12.400" x="459" y="377.400" fill="#111" textLength="34" lengthAdjust="spacingAndGlyphs">광케이</text>
<text class="b ol" font-size="12.400" x="459" y="391.200" fill="#111">블</text>
<!-- ============ GROUND OBJECTS ============ -->
<!-- link line between trucks -->
<rect x="318" y="457.800" width="180" height="3.200" fill="#0a0a0a"/>

<!-- truck 1 : 이동 관제국 -->
<g id="truck1">
  <g>
    <rect x="185.900" y="346.300" width="10" height="23" rx="1.200" fill="#b3c3dc"/>
    <rect x="206.200" y="346.300" width="9.800" height="23" rx="1.200" fill="#b3c3dc"/>
    <rect x="195.700" y="359.700" width="10.700" height="4" fill="#20437f"/>
    <rect x="198.700" y="359.700" width="5" height="25" fill="#20437f"/>
    <rect x="190.500" y="383.600" width="21.500" height="13.500" rx="1" fill="#20437f"/>
  </g>
  <path d="M153 396.200 H277.500 C280.500 396.200 282.500 397 284.500 399.200 L317.500 435 C320.500 438 322 441 322 445.500 V461.500 C322 465 320 466.800 317 466.800 H150 C147 466.800 145 465 145 462 V404.200 C145 399.500 148.500 396.200 153 396.200Z" fill="#9b9b9b"/>
  <path d="M145 454 H322 V461.500 C322 465 320 466.800 317 466.800 H150 C147 466.800 145 465 145 462Z" fill="#737373"/>
  <rect x="264" y="396.200" width="3" height="57.800" fill="#6f6f6f"/>
  <path d="M272.700 408 H283.200 C284.400 408 285.200 408.400 285.900 409.400 L296.800 425.600 C297.300 426.400 297.500 427.100 297.500 428 V432.600 C297.500 433.400 297.100 433.800 296.300 433.800 H272.700 C271.700 433.800 271.200 433.300 271.200 432.300 V409.500 C271.200 408.500 271.700 408 272.700 408Z" fill="#6b6b6b"/>
  <circle cx="182" cy="470" r="11.700" fill="#3d3d3d"/><circle cx="182" cy="470" r="6.600" fill="#c9c9c9"/>
  <circle cx="301" cy="470" r="11.700" fill="#3d3d3d"/><circle cx="301" cy="470" r="6.600" fill="#c9c9c9"/>
  <text x="159.300" y="418.600" font-size="15" font-weight="500" fill="#fff" textLength="61.400" lengthAdjust="spacingAndGlyphs">이동 관제국</text>
  <use href="#srv" transform="translate(151.600 422.500)"/>
  <!-- laptop 1 -->
  <rect x="198.500" y="422" width="26" height="17" rx="1" fill="#111"/>
  <rect x="200" y="423.400" width="23" height="14" fill="#4e7a3d"/>
  <path d="M204 434l9 -7 5 -1 -2 3 -8 6z" fill="#151515"/>
  <path d="M200 423.400h23v4l-23 3z" fill="#6f9a58" opacity="0.700"/>
  <path d="M195.500 439h32l-1.500 2.600h-29z" fill="#1a1a1a"/>
  <!-- laptop 2 -->
  <rect x="236.500" y="422" width="25" height="16.500" rx="1" fill="#111"/>
  <rect x="238" y="423.400" width="22" height="13.600" fill="#31465c"/>
  <rect x="239" y="424.400" width="20" height="7.500" fill="#5d8a6a"/>
  <path d="M240 430l6 -3 5 2 7 -4v7h-18z" fill="#c9b36a" opacity="0.700"/>
  <rect x="239" y="433" width="20" height="3" fill="#1c2a3a"/>
  <path d="M233.500 438.500h31l-1.500 2.600h-28z" fill="#1a1a1a"/>
  <!-- blue tags -->
  <rect x="148.600" y="443" width="42" height="22" fill="#2b3f9e"/>
  <rect x="193.300" y="443" width="42.700" height="20.600" fill="#2b3f9e"/>
  <rect x="238" y="441" width="23" height="22.600" fill="#2b3f9e"/>
  <g fill="#fff" class="b" font-size="11.200">
    <text x="153.400" y="462.100" textLength="35" lengthAdjust="spacingAndGlyphs">AI 분석</text>
    <text x="194.700" y="462.300" textLength="40.500" lengthAdjust="spacingAndGlyphs">모니터링</text>
    <text x="239.500" y="461.600" textLength="20.800" lengthAdjust="spacingAndGlyphs">관제</text>
  </g>
</g>

<!-- truck 2 : 이음 5G 이동기지국 -->
<g id="truck2">
  <rect x="495.900" y="473" width="177" height="6.400" rx="3.200" fill="#4b5f31"/>
  <g>
    <rect x="536.300" y="343" width="9.700" height="22.900" rx="1" fill="#b3c3dc"/>
    <rect x="557.200" y="343" width="9.700" height="22.900" rx="1" fill="#b3c3dc"/>
    <rect x="546.400" y="356.600" width="10.400" height="4.500" fill="#20437f"/>
    <rect x="549.500" y="356.600" width="5.500" height="25" fill="#20437f"/>
    <rect x="540.500" y="379.700" width="22.400" height="15" rx="1" fill="#20437f"/>
  </g>
  <path d="M504 393.700 H627.500 C630.500 393.700 632.500 394.500 634.500 396.700 L668 433 C671 436 672.700 439 672.700 443.500 V460.500 C672.700 464.800 670.700 466.600 667.700 466.600 H501 C498 466.600 496 464.800 496 461.800 V401.700 C496 397 499.500 393.700 504 393.700Z" fill="#9b9b9b"/>
  <path d="M496 450.400 H672.700 V460.500 C672.700 464.800 670.700 466.600 667.700 466.600 H501 C498 466.600 496 464.800 496 461.800Z" fill="#737373"/>
  <rect x="614.700" y="393.700" width="3" height="56.700" fill="#6f6f6f"/>
  <path d="M623.600 404.900 H633.200 C634.400 404.900 635.200 405.300 635.900 406.300 L647.100 421.700 C647.600 422.500 647.800 423.200 647.800 424.100 V429 C647.800 429.800 647.400 430.200 646.600 430.200 H623.600 C622.600 430.200 622.100 429.700 622.100 428.700 V406.400 C622.100 405.400 622.600 404.900 623.600 404.900Z" fill="#6b6b6b"/>
  <circle cx="532.200" cy="467.400" r="11.700" fill="#3d3d3d"/><circle cx="532.200" cy="467.400" r="6.600" fill="#c9c9c9"/>
  <circle cx="651.600" cy="467.400" r="11.700" fill="#3d3d3d"/><circle cx="651.600" cy="467.400" r="6.600" fill="#c9c9c9"/>
  <text x="503.900" y="422.200" font-size="15" font-weight="500" fill="#fff" textLength="43.700" lengthAdjust="spacingAndGlyphs">이음 5G</text>
  <text x="566.800" y="422.200" font-size="15" font-weight="500" fill="#fff" textLength="59.500" lengthAdjust="spacingAndGlyphs">이동기지국</text>
  <use href="#srv" transform="translate(519.600 431.800) scale(0.940)"/>
  <text class="b ol" x="568.800" y="441.500" font-size="12.500" fill="#111" stroke="#d8d8d8" stroke-width="1.600" textLength="37" lengthAdjust="spacingAndGlyphs">5G 코어</text>
  <text class="b ol" x="568.800" y="456.500" font-size="12.800" fill="#111" stroke="#d8d8d8" stroke-width="1.600" textLength="40.400" lengthAdjust="spacingAndGlyphs">5G MEC</text>
</g>

<!-- bushes -->
<g fill="#52883a">
  <path d="M11.100 591.500 L17.900 577 C8 572 3.900 563 3.900 552.800 C3.900 537 15 524.200 30.400 524.200 C36 524.200 40.500 525.200 43.900 526.900 C47 516 59 509.800 73.400 509.800 C88 509.800 98.500 520 97.600 534.900 C100.500 528 105.500 524.700 111.900 524.700 C117 524.700 121.500 526 124.400 528.600 C126 520 129 515 132.500 512.500 C135 510.800 138 510.500 142 510.500 L225 510.500 C232 520 236 540 234.500 555 C240 545 254 539.700 266 539.700 C290 539.700 310 556 310.400 575 C310.400 582 309 588 308 591.500 Z"/>
  <path d="M440 591.500 C436 580 431 570 431.600 556 C432 544 438 537 446 535.500 C462 533 490 534 504 534.500 C506 529 511 524.500 517 524.500 C523 524.500 527 532 528 544 L600 544 C601 545 603 546 604.300 547 C606 545 608 544 610 544 L650 544 C655 545 660 549 662.400 553 C668 544 684 539 699 539.800 C722 541 737 556 736 570 C735 580 733 586 732 591.500 Z"/>
  <path d="M946.200 591.500 L953 576.400 C944 570 938.800 561 938.800 550 C938.800 536 949 523.500 963.600 523.500 C970 523.500 976 524.500 979.500 526 C982 516 990 509.700 999.600 509.700 C1011 509.700 1020.800 517 1020.800 528 L1021.200 591.500 Z"/>
</g>

<!-- image strip panel -->
<g id="panel">
  <rect x="131.300" y="483.400" width="230.600" height="83.500" fill="none" stroke="#c2c2c2" stroke-width="1.600"/>
  <rect x="144.700" y="489" width="39.500" height="19.800" fill="#fff"/>
  <path d="M140.500 491.200L362 483.930" stroke="#f5c01a" stroke-width="3.100"/>
  <text x="145.200" y="497.600" font-size="10.600" fill="#111" font-weight="500" textLength="38.500" lengthAdjust="spacingAndGlyphs">촬영영상</text>
  <text x="145.200" y="507.400" font-size="10.600" fill="#111" font-weight="500" textLength="38.500" lengthAdjust="spacingAndGlyphs">지형중첩</text>
  <!-- img 1 -->
  <g filter="url(#soft)">
  <rect x="136.600" y="510" width="55.400" height="44" fill="#23502c"/>
  <path d="M136.600 510h8l-1 8 3 6 -4 8h-6z" fill="#666d63"/>
  <path d="M170 540c6 -4 14 -6 22 -4v18h-26c0 -6 0 -10 4 -14z" fill="#2f6a3a"/>
  <path d="M150 510l6 5 -2 6 8 4" stroke="#7f8a66" stroke-width="1.400" fill="none"/>
  <path d="M143 537c8 -1 14 -3 20 -7c6 -2 10 0 16 1c6 -1 9 -5 13 -8" stroke="#8f9168" stroke-width="2" fill="none"/>
  <path d="M160 531c4 3 8 5 10 9" stroke="#7c8560" stroke-width="1.300" fill="none"/>
  <path d="M136.600 545c5 -2 12 -3 18 -1c4 2 5 6 4 10h-22z" fill="#9a8c69"/>
  <path d="M138 549c3 -1 6 0 8 2" stroke="#c9bda0" stroke-width="1" fill="none"/>
  </g>
  <g fill="none" stroke="#d6dad3" stroke-width="0.800">
    <rect x="141.600" y="513.200" width="47.700" height="9.200"/>
    <path d="M151.100 513.200v9.200M160.600 513.200v9.200M170.200 513.200v9.200M179.800 513.200v9.200"/>
    <rect x="141.600" y="522.400" width="19" height="19.900"/>
    <path d="M151.100 522.400v19.900M141.600 532h19"/>
  </g>
  <path d="M194.600 525.500l2.600 -1.800 4.700 8.300 -4.700 8 -2.600 -2z" fill="#4a7fd6"/>
  <!-- img 2 -->
  <rect x="209.800" y="495.500" width="39.200" height="12" fill="#fff"/>
  <text x="210.500" y="505.600" font-size="10.600" font-weight="500" fill="#111" textLength="37.800" lengthAdjust="spacingAndGlyphs">수색결과</text>
  <g filter="url(#soft)">
  <rect x="203.200" y="509.600" width="54.400" height="43.900" fill="#244f2c"/>
  <path d="M203.200 509.600h9l-1 7 -3 6 -5 3z" fill="#6b6c69"/>
  <path d="M236 536c6 -3 14 -3 21.600 -1v18.500h-24c-1 -7 -1 -13 2.400 -17.500z" fill="#2c6437"/>
  <path d="M213 533c6 -1 12 -2 17 -2c5 0 9 3 13 5" stroke="#8f9168" stroke-width="1.800" fill="none"/>
  <path d="M203.200 545c6 -3 14 -4 22 -2c4 3 4 7 3 10.500h-25z" fill="#a39270"/>
  <path d="M205 550c4 -2 8 -1 11 1" stroke="#cfc3a6" stroke-width="1" fill="none"/>
  <path d="M209 514.500l12 -3 4 5.500 -4 6.500 -9.500 0 -4 -4.500z" fill="#c7cbc5" opacity="0.780"/>
  <path d="M222 510.500l11 -0.700 4 5.300 -5 5 -7 -2.500z" fill="#bfc4bd" opacity="0.780"/>
  <path d="M237 512.500l8 -1.300 4 6 -5 5.300 -8 -0.700z" fill="#c7cbc5" opacity="0.780"/>
  </g>
  <circle cx="224.300" cy="538" r="7.500" fill="#e02a1c" opacity="0.500"/>
  <circle cx="224.300" cy="538" r="5" fill="#f0241a" opacity="0.850"/>
  <circle cx="224.800" cy="538" r="2.400" fill="#ff2a1a"/>
  <path d="M224.900 537.300L269.700 508.200M224.900 539.500L269.700 551.800" stroke="#c9a020" stroke-width="0.900" fill="none"/>
  <!-- img 3 -->
  <rect x="281.300" y="496" width="67.200" height="11.600" fill="#fff"/>
  <text class="b" x="282.500" y="505.600" font-size="10.400" fill="#111" textLength="64.600" lengthAdjust="spacingAndGlyphs">상황 상세 정보</text>
  <rect x="269.700" y="508.400" width="47" height="43.800" fill="#6f8560"/>
  <path d="M269.700 508.400h47v16c-14 6 -30 8 -47 6z" fill="#8a9482" opacity="0.800"/>
  <path d="M269.700 545c14 -4 30 -6 47 -4v11.200h-47z" fill="#5f7d48" opacity="0.900"/>
  <path d="M271 513l14 -3 6 6 -16 5z" fill="#e9ecef"/>
  <rect x="294" y="509.800" width="20" height="17" fill="none" stroke="#e4573c" stroke-width="0.800"/>
  <use href="#pers" transform="translate(-479.600 96.900) scale(0.850)"/>
  <rect x="316.700" y="508.400" width="40.500" height="43.800" fill="#2a3140"/>
  <rect x="316.700" y="508.400" width="3.400" height="6" fill="#e4573c"/>
  <g fill="#d88b3a"><rect x="322" y="512.500" width="5" height="4.500"/><rect x="329" y="512.500" width="5" height="4.500"/><rect x="336" y="512.500" width="5" height="4.500"/><rect x="343" y="512.500" width="5" height="4.500"/><rect x="322" y="520" width="5" height="4.500"/><rect x="329" y="520" width="5" height="4.500"/><rect x="336" y="520" width="5" height="4.500"/><rect x="343" y="520" width="5" height="4.500"/></g>
  <g fill="#3f8f68" opacity="0.800"><rect x="323.500" y="513.500" width="2.500" height="2.500"/><rect x="330.500" y="513.500" width="2.500" height="2.500"/><rect x="337.500" y="513.500" width="2.500" height="2.500"/><rect x="344.500" y="521" width="2.500" height="2.500"/></g>
  <rect x="351" y="510" width="6.200" height="20" fill="#1d2230"/>
  <rect x="318" y="529.500" width="39.200" height="3" fill="#1a1f2b"/>
  <rect x="320" y="537.500" width="37.200" height="4.800" fill="#4f86d0"/>
  <rect x="320" y="543.800" width="37.200" height="1.600" fill="#39506e"/>
  <circle cx="319.600" cy="536" r="1.300" fill="#eee"/>
</g>

<!-- blue dispatch arrow -->
<path d="M362 518.500 H484 V512.200 L519.300 528.200 L484 544.500 V537.500 H362Z" fill="url(#barrow)"/>
<text class="b" x="428" y="535.800" font-size="12.300" fill="#fff" textLength="66.700" lengthAdjust="spacingAndGlyphs">확인수색 출동</text>
<!-- police car -->
<g id="police">
  <rect x="524.600" y="538.400" width="123" height="7.200" rx="2" fill="#8c8a36"/>
  <path d="M526.700 493.700V514" stroke="#555" stroke-width="0.800"/>
  <rect x="569.400" y="496" width="11.600" height="4.200" rx="1" fill="#2337a8"/>
  <rect x="582.600" y="495.400" width="6" height="5" rx="1.500" fill="#6a6a6a"/>
  <path d="M524 521 C524 516 527 513.500 532 513 C540 508 549 503.500 558 502.300 C570 500.800 588 500.800 597 502.300 C605 504.500 612 509 619 513.200 C630 514.500 641 517 646 520.500 C649 522.500 649.600 527 649.200 531 C649 535 647 537.200 644 537.500 H530 C526 537.500 523.600 534 523.600 530Z" fill="#fdfdfd" stroke="#d9d9d9" stroke-width="0.600"/>
  <path d="M533.400 513.200 L551 504.200 L553 505.200 L537 514.200Z" fill="#3a3a3a"/>
  <path d="M547.500 514.300 L557.500 504.600 C562 503.800 569 503.600 574.700 503.600 L572.300 514.700Z" fill="#3f3f3f"/>
  <path d="M576.600 514.800 L578.600 503.600 C584 503.600 589 503.800 592 504.400 L606.500 515.400Z" fill="#3f3f3f"/>
  <path d="M595.500 502.700 L598 502.500 L615.500 512.800 L611.500 513.800Z" fill="#3a3a3a"/>
  <path d="M525.500 516.200 H560 C590 516.600 620 517.600 644.500 520.200 L646.500 521.800 C620 520.800 590 520.400 560 520.200 H524.600Z" fill="#2b3aa5"/>
  <path d="M524.600 521.300 H560 C590 521.500 620 522 646 523" stroke="#e9b93a" stroke-width="0.800" fill="none"/>
  <rect x="525.300" y="516.600" width="7.200" height="4.800" rx="1.600" fill="#e8434f"/>
  <path d="M641 518.500c3 0.500 5.500 2 6.500 4l-5 -0.500z" fill="#e8e8e8"/>
  <g><circle cx="547.1" cy="534.2" r="10.2" fill="#383838"/><circle cx="547.1" cy="534.2" r="7.6" fill="#f1f1f1"/><circle cx="547.1" cy="534.2" r="6.3" fill="#5a5a5a"/><path d="M547.1 534.2L547.10 527.60" stroke="#f1f1f1" stroke-width="2.7" stroke-linecap="butt"/><path d="M547.1 534.2L553.38 532.16" stroke="#f1f1f1" stroke-width="2.7" stroke-linecap="butt"/><path d="M547.1 534.2L550.98 539.54" stroke="#f1f1f1" stroke-width="2.7" stroke-linecap="butt"/><path d="M547.1 534.2L543.22 539.54" stroke="#f1f1f1" stroke-width="2.7" stroke-linecap="butt"/><path d="M547.1 534.2L540.82 532.16" stroke="#f1f1f1" stroke-width="2.7" stroke-linecap="butt"/><circle cx="547.1" cy="534.2" r="2.6" fill="#f1f1f1"/><circle cx="547.1" cy="534.2" r="1" fill="#b8b8b8"/><circle cx="625.7" cy="534.2" r="10.2" fill="#383838"/><circle cx="625.7" cy="534.2" r="7.6" fill="#f1f1f1"/><circle cx="625.7" cy="534.2" r="6.3" fill="#5a5a5a"/><path d="M625.7 534.2L625.70 527.60" stroke="#f1f1f1" stroke-width="2.7" stroke-linecap="butt"/><path d="M625.7 534.2L631.98 532.16" stroke="#f1f1f1" stroke-width="2.7" stroke-linecap="butt"/><path d="M625.7 534.2L629.58 539.54" stroke="#f1f1f1" stroke-width="2.7" stroke-linecap="butt"/><path d="M625.7 534.2L621.82 539.54" stroke="#f1f1f1" stroke-width="2.7" stroke-linecap="butt"/><path d="M625.7 534.2L619.42 532.16" stroke="#f1f1f1" stroke-width="2.7" stroke-linecap="butt"/><circle cx="625.7" cy="534.2" r="2.6" fill="#f1f1f1"/><circle cx="625.7" cy="534.2" r="1" fill="#b8b8b8"/></g>
  <text x="558.500" y="527.800" font-size="5" class="b" fill="#2b3aa5" textLength="16.700" lengthAdjust="spacingAndGlyphs">POLICE</text>
  <text x="581" y="527.800" font-size="5" class="b" fill="#2b3aa5" textLength="9.500" lengthAdjust="spacingAndGlyphs">경찰</text>
  <path d="M597.200 520.600c1.500 1 3 1.200 4.500 1c0.300 3.500 -1 6.500 -4.500 8.200c-3.500 -1.700 -4.800 -4.700 -4.500 -8.200c1.500 0.200 3 0 4.500 -1z" fill="#2b3aa5"/>
  <circle cx="597.200" cy="524.800" r="2" fill="#e9b93a"/>
</g>

<!-- search area labels -->
<text x="0" y="0" font-size="10.400" font-weight="500" fill="#1a1a1a" transform="translate(675.800 506.300) rotate(16.500)" textLength="47" lengthAdjust="spacingAndGlyphs">수색영역할당</text>
<text x="0" y="0" font-size="10.400" font-weight="500" fill="#1a1a1a" transform="translate(803.500 551) rotate(13)" textLength="29" lengthAdjust="spacingAndGlyphs">&lt;500m</text>

<!-- trash bag with clothes -->
<g id="bag">
  <path d="M738 570 C744 578 774 578 781 568 C776 574 744 575 738 570Z" fill="#1f3a1a" stroke="#1f3a1a" stroke-width="2"/>
  <ellipse cx="758.500" cy="553.200" rx="24" ry="19.400" fill="#dfe8f7" stroke="#111" stroke-width="2.200"/>
  <path d="M760 536 C768 536 778 542 780 552 C776 546 768 540 758 538Z" fill="#ffffff" opacity="0.900"/>
  <path d="M761.500 534.500 C758 530 755 527.500 753.500 527 C753 529.500 755.500 532.500 759 535 M762.500 534.500 C766 531 770.500 529.500 773.500 530.500 C772.500 533 768 535 764 535.500 M760 535 C759.500 532 760.500 530.500 762 530 C763.500 531 763.500 533 762.500 535" fill="#fff" stroke="#111" stroke-width="1.300" stroke-linejoin="round" stroke-linecap="round"/>
  <path d="M739 547 L746.500 540.500 L749.500 541.500 L753 539.500 L758.500 538.800 L756.500 545 L757.500 553 L746 557.500 L743.500 548.500 L741 550Z" fill="#f2a21f" stroke="#c98210" stroke-width="0.500" stroke-linejoin="round"/>
  <path d="M754.500 553.500 L768.500 554.500 L767.500 570.500 L761 570 L762.500 557.500 L756.500 568.500 L750 566.500Z" fill="#2d5aa8"/>
  <path d="M754.500 553.500 L768.500 554.500 L768.300 556 L754 555Z" fill="#1c2d55"/>
  <path d="M762 543 L765 541.500 L768.500 547.500 L766 551 L762.500 549.500Z" fill="#fff" stroke="#bbb" stroke-width="0.400"/>
  <path d="M768 542.500 L771.500 541.800 L777.500 547.500 L776 550 L769.500 548.500Z" fill="#fff" stroke="#bbb" stroke-width="0.400"/>
  <path d="M762.300 543.300 l2.600 -1.300 1 1.800 -2.600 1.200zM768.300 543 l3 -0.700 1.200 1.500 -3.200 1z" fill="#d9373a"/>
</g>

<!-- missing person -->
<use href="#pers"/>



</svg>
</body>
</html>
